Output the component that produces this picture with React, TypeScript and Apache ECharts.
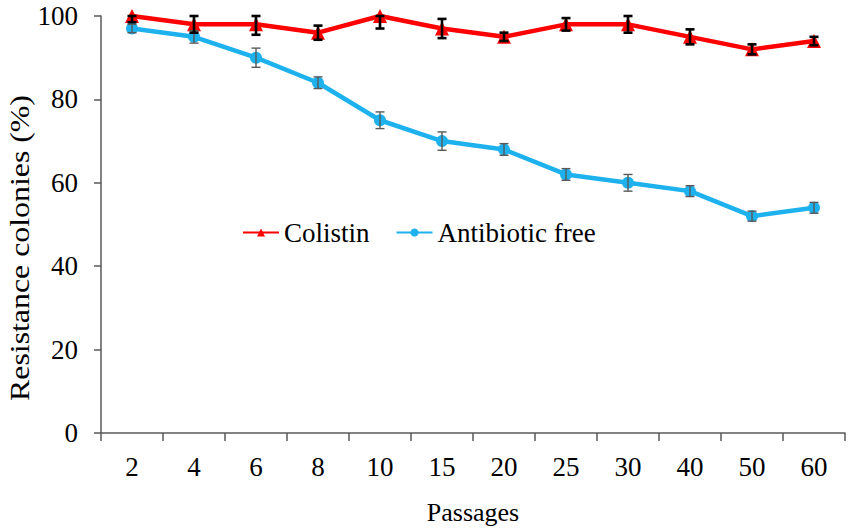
import React, { useEffect, useRef } from "react";
import * as echarts from "echarts";

const categories = ["2", "4", "6", "8", "10", "15", "20", "25", "30", "40", "50", "60"];
const colistin = [100, 98, 98, 96, 100, 97, 95, 98, 98, 95, 92, 94];
const colistinErr = [1.5, 2, 2.5, 1.7, 3, 2.3, 1, 1.5, 2, 1.8, 1.2, 1];
const antibioticFree = [97, 95, 90, 84, 75, 70, 68, 62, 60, 58, 52, 54];
const antibioticFreeErr = [1, 1.5, 2.3, 1.4, 2, 2.2, 1.4, 1.4, 2, 1.3, 1.2, 1.3];
const yTicks = [0, 20, 40, 60, 80, 100];

const FONT = "Liberation Serif";

function errData(vals: number[], errs: number[]) {
  return vals.map((v, i) => [i, Math.max(0, v - errs[i]), Math.min(100, v + errs[i])]);
}

function errRender(color: string, width: number) {
  return (params: any, api: any) => {
    const i = api.value(0);
    const lo = api.coord([i, api.value(1)]);
    const hi = api.coord([i, api.value(2)]);
    const cap = 4.5;
    const style = { stroke: color, lineWidth: width };
    return {
      type: "group",
      children: [
        { type: "line", shape: { x1: lo[0], y1: lo[1], x2: hi[0], y2: hi[1] }, style },
        { type: "line", shape: { x1: lo[0] - cap, y1: lo[1], x2: lo[0] + cap, y2: lo[1] }, style },
        { type: "line", shape: { x1: hi[0] - cap, y1: hi[1], x2: hi[0] + cap, y2: hi[1] }, style },
      ],
    };
  };
}

export default function App() {
  const ref = useRef<HTMLDivElement>(null);
  useEffect(() => {
    document.body.style.margin = "0";
    if (!ref.current) return;
    const chart = echarts.init(ref.current, undefined, { renderer: "svg" });
    const axisColor = "#595959";
    chart.setOption({
      animation: false,
      backgroundColor: "#ffffff",
      textStyle: { fontFamily: FONT },
      grid: { left: 101, right: 6, top: 16, bottom: 99 },
      legend: {
        left: 237,
        top: 214,
        itemWidth: 36,
        itemHeight: 10,
        itemGap: 26,
        textStyle: { fontFamily: FONT, fontSize: 27, color: "#000" },
        data: ["Colistin", "Antibiotic free"],
      },
      graphic: [
        {
          type: "text",
          x: 20,
          y: 248,
          rotation: Math.PI / 2,
          scaleX: 1.18,
          style: {
            text: "Resistance colonies (%)",
            fontFamily: FONT,
            fontSize: 27,
            fill: "#000",
            align: "center",
            verticalAlign: "middle",
          },
        },
      ],
      xAxis: {
        type: "category",
        data: categories,
        boundaryGap: true,
        name: "Passages",
        nameLocation: "middle",
        nameGap: 66,
        nameTextStyle: { fontFamily: FONT, fontSize: 26, color: "#000" },
        axisLine: { lineStyle: { color: axisColor, width: 1.5 } },
        axisTick: { show: true, length: 8, alignWithLabel: false, lineStyle: { color: axisColor, width: 1.5 } },
        axisLabel: { fontFamily: FONT, fontSize: 27, color: "#000", margin: 20, interval: 0 },
        splitLine: { show: false },
      },
      yAxis: {
        type: "value",
        min: 0,
        max: 100,
        interval: 20,
        axisLine: { show: true, lineStyle: { color: axisColor, width: 1.5 } },
        axisTick: { show: true, length: 7, lineStyle: { color: axisColor, width: 1.5 } },
        axisLabel: {
          fontFamily: FONT,
          fontSize: 27,
          color: "#000",
          margin: 23,
          formatter: (v: number) => (yTicks.includes(v) ? String(v) : ""),
        },
        splitLine: { show: false },
      },
      series: [
        {
          name: "Colistin",
          type: "line",
          data: colistin,
          symbol: "triangle",
          symbolSize: 14,
          itemStyle: { color: "#FF0000" },
          lineStyle: { color: "#FF0000", width: 4.5 },
          z: 3,
        },
        {
          name: "Antibiotic free",
          type: "line",
          data: antibioticFree,
          symbol: "circle",
          symbolSize: 12,
          itemStyle: { color: "#1DB1EE" },
          lineStyle: { color: "#1DB1EE", width: 4.5 },
          z: 2,
        },
        {
          type: "custom",
          data: errData(colistin, colistinErr),
          renderItem: errRender("#000000", 2.6),
          encode: { x: 0, y: [1, 2] },
          z: 5,
          silent: true,
        },
        {
          type: "custom",
          data: errData(antibioticFree, antibioticFreeErr),
          renderItem: errRender("#595959", 1.4),
          encode: { x: 0, y: [1, 2] },
          z: 4,
          silent: true,
        },
      ],
    });
    return () => chart.dispose();
  }, []);
  return <div ref={ref} style={{ width: 851, height: 532 }} />;
}
